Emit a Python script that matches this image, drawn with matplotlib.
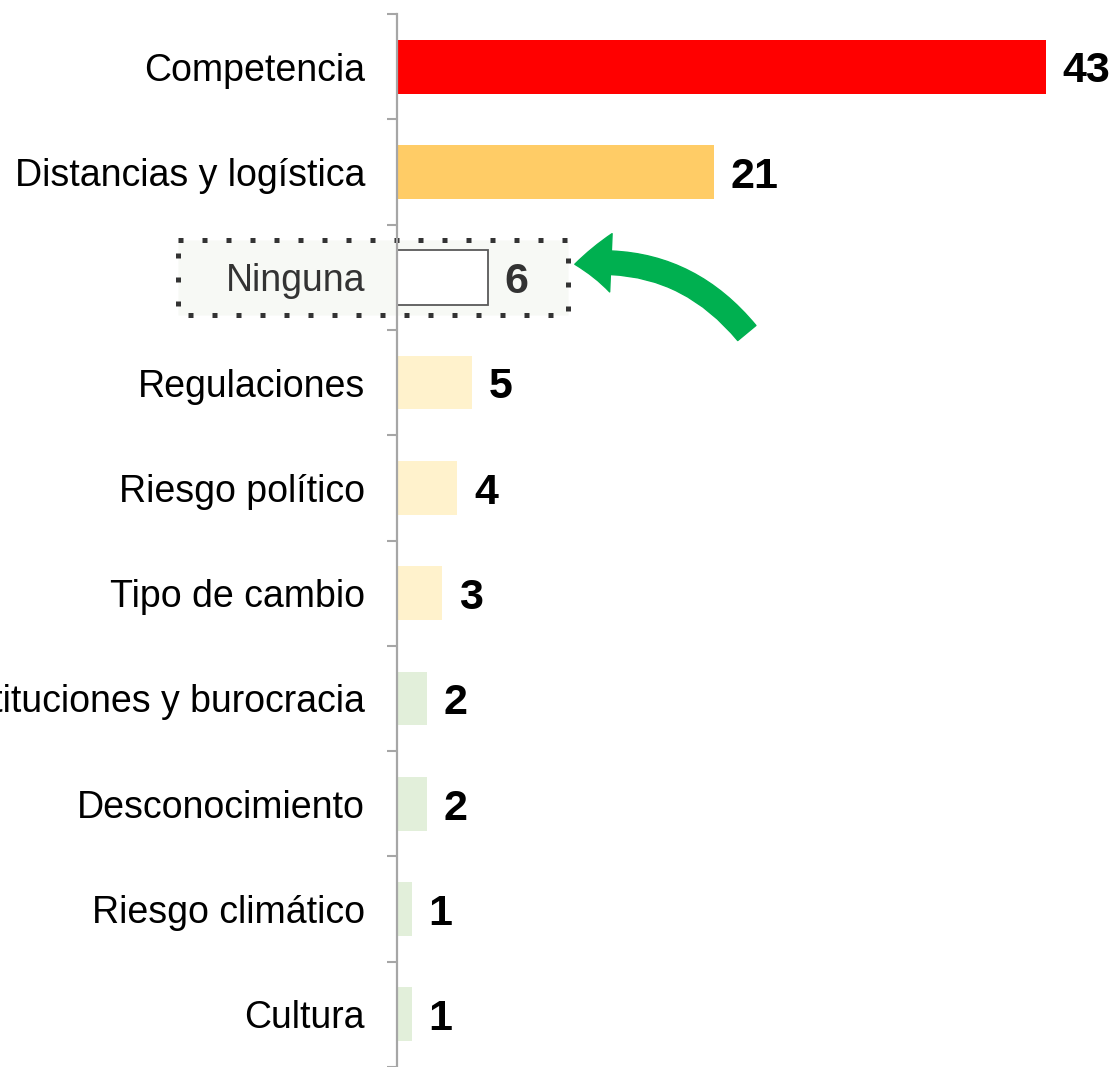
import matplotlib.pyplot as plt
from matplotlib.patches import Rectangle, FancyArrowPatch

categorias = ['Competencia', 'Distancias y logística', 'Ninguna', 'Regulaciones',
              'Riesgo político', 'Tipo de cambio', 'Instituciones y burocracia',
              'Desconocimiento', 'Riesgo climático', 'Cultura']
valores = [43, 21, 6, 5, 4, 3, 2, 2, 1, 1]
colores = ['#FF0000', '#FFCC66', '#FFFFFF', '#FFF2CC', '#FFF2CC', '#FFF2CC',
           '#E2EFDA', '#E2EFDA', '#E2EFDA', '#E2EFDA']

plt.rcParams['font.family'] = ['Liberation Sans', 'DejaVu Sans']

W, H = 1120, 1067
fig = plt.figure(figsize=(W / 100, H / 100), dpi=100)
ax_left, ax_top, ax_bottom = 397, 14, 1067
px_per_unit = 15.09
ax = fig.add_axes([ax_left / W, 0, (W - ax_left) / W, (ax_bottom - ax_top) / H])
ax.set_xlim(0, (W - ax_left) / px_per_unit)
ax.set_ylim(len(categorias) - 0.5, -0.5)

y = list(range(len(categorias)))
for i, (v, c) in enumerate(zip(valores, colores)):
    if categorias[i] == 'Ninguna':
        ax.barh(i, v, height=0.52, color=c, edgecolor='#595959', linewidth=1.3, zorder=3)
        col = '#333333'
    else:
        ax.barh(i, v, height=0.51, color=c, zorder=3)
        col = 'black'
    ax.text(v + 1.1, i + 0.15, str(v), va='baseline', ha='left', fontsize=31,
            fontweight='bold', color=col, zorder=4)

# dotted highlight box around "Ninguna"
box = Rectangle((-14.5, 1.646), 25.8, 0.712, facecolor='#F7F9F5', edgecolor='#333333',
                linewidth=3.6, linestyle=(0, (1, 3.8)), capstyle='butt',
                clip_on=False, zorder=1)
ax.add_patch(box)

arrow = FancyArrowPatch((23.3, 2.55), (11.6, 1.88), connectionstyle='arc3,rad=0.28',
                        arrowstyle='simple,head_length=26,head_width=42,tail_width=17',
                        mutation_scale=1, color='#00B050', clip_on=False, zorder=5)
ax.add_patch(arrow)

ax.set_yticks(y)
ax.set_yticklabels(categorias, fontsize=27)
for lbl, cat in zip(ax.get_yticklabels(), categorias):
    lbl.set_color('#333333' if cat == 'Ninguna' else 'black')
ax.tick_params(axis='y', which='major', length=0, pad=23)
ax.set_yticks([i - 0.5 for i in range(len(categorias) + 1)], minor=True)
ax.tick_params(axis='y', which='minor', length=7, width=1.5, color='#A6A6A6')
ax.set_xticks([])
for s in ['top', 'right', 'bottom']:
    ax.spines[s].set_visible(False)
ax.spines['left'].set_color('#A6A6A6')
ax.spines['left'].set_linewidth(1.6)
ax.spines['left'].set_zorder(6)
ax.patch.set_alpha(0)

fig.savefig('out.png', dpi=100)
